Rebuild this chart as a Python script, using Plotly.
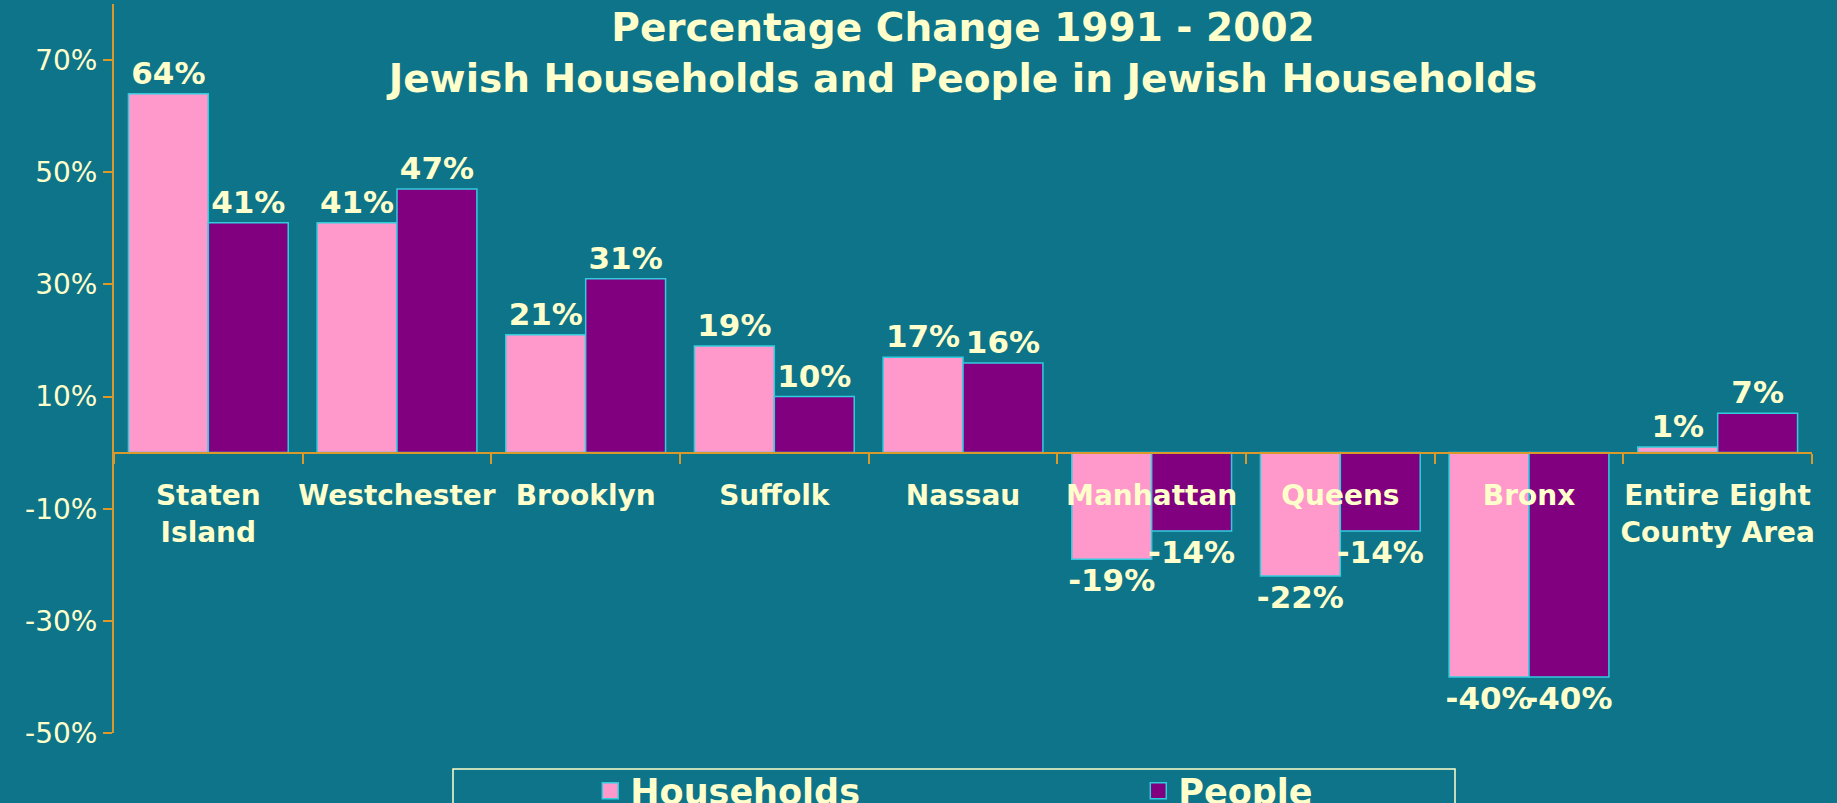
import plotly.graph_objects as go

categories = ["Staten<br>Island", "Westchester", "Brooklyn", "Suffolk", "Nassau",
              "Manhattan", "Queens", "Bronx", "Entire Eight<br>County Area"]
households = [64, 41, 21, 19, 17, -19, -22, -40, 1]
people = [41, 47, 31, 10, 16, -14, -14, -40, 7]
series_names = ["Households", "People"]
y_tick_values = [-50, -30, -10, 10, 30, 50, 70]
y_tick_labels = ["-50%", "-30%", "-10%", "10%", "30%", "50%", "70%"]

BG = "#0E7489"
PINK = "#FF99CC"
PURPLE = "#800080"
EDGE = "#33CCDD"
TXT = "#FFFFCC"
AXIS = "#D99A2B"
FONT = "DejaVu Sans"

fig = go.Figure()
for name, vals, col in [(series_names[0], households, PINK), (series_names[1], people, PURPLE)]:
    fig.add_trace(go.Bar(
        x=categories, y=vals, name=name,
        marker=dict(color=col, line=dict(color=EDGE, width=1.5)),
        text=[f"{v}%" for v in vals], textposition="outside",
        textfont=dict(family=FONT, size=31, color=TXT, weight="bold"),
        constraintext="none", cliponaxis=False, showlegend=False,
    ))
    fig.add_trace(go.Scatter(
        x=[None], y=[None], mode="markers", name=name,
        marker=dict(symbol="square", size=20, color=col, line=dict(color=EDGE, width=1.5)),
        showlegend=True,
    ))

fig.update_layout(
    width=1837, height=803,
    paper_bgcolor=BG, plot_bgcolor=BG,
    margin=dict(l=114, r=25, t=4, b=70, autoexpand=False),
    barmode="group", bargap=0.153, bargroupgap=0,
    title=dict(
        text="Percentage Change 1991 - 2002<br>Jewish Households and People in Jewish Households",
        x=0.5, xref="paper", xanchor="center",
        y=0.949, yref="container", yanchor="top",
        font=dict(family=FONT, size=39, color=TXT, weight="bold"),
    ),
    xaxis=dict(
        anchor="free", position=50 / 130,
        showline=True, linecolor=AXIS, linewidth=2,
        ticks="outside", tickson="boundaries", ticklen=10, tickcolor=AXIS, tickwidth=1.5,
        tickfont=dict(family=FONT, size=28, color=TXT, weight="bold"),
        tickangle=0, ticklabelstandoff=18, showgrid=False, zeroline=False,
    ),
    yaxis=dict(
        range=[-50, 80], tickvals=y_tick_values, ticktext=y_tick_labels,
        showline=True, linecolor=AXIS, linewidth=2,
        ticks="outside", ticklen=9, tickcolor=AXIS, tickwidth=1.5,
        tickfont=dict(family=FONT, size=28, color=TXT),
        showgrid=False, zeroline=False,
    ),
    legend=dict(
        orientation="h", x=0.2805, xanchor="left", y=-0.039, yanchor="top",
        font=dict(family=FONT, size=35, color=TXT, weight="bold"),
        entrywidth=503, itemsizing="trace", bgcolor="rgba(0,0,0,0)", borderwidth=0,
    ),
    shapes=[dict(type="rect", xref="paper", yref="paper",
                 x0=(453 - 114) / 1698, x1=(1455 - 114) / 1698,
                 y0=-0.0494, y1=-0.3,
                 line=dict(color=TXT, width=1.5), fillcolor="rgba(0,0,0,0)", layer="below")],
)

fig.write_html("out.html", config={"displayModeBar": False},
               post_script="document.body.style.margin='0';")
